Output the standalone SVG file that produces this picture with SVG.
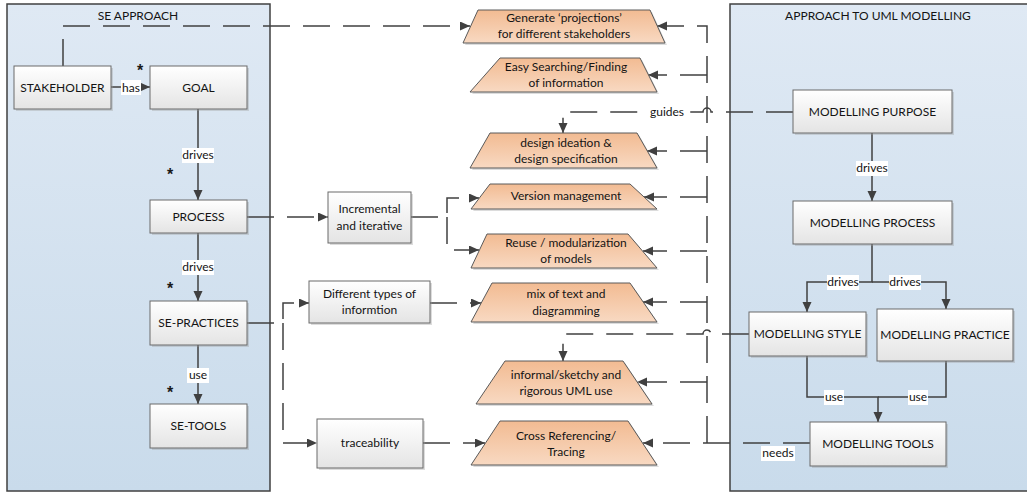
<svg xmlns="http://www.w3.org/2000/svg" width="1027" height="493" viewBox="0 0 1027 493">
<defs>
<linearGradient id="gPanel" x1="0" y1="0" x2="0" y2="1"><stop offset="0" stop-color="#dfe9f4"/><stop offset="1" stop-color="#c9dbeb"/></linearGradient>
<linearGradient id="gNode" x1="0" y1="0" x2="0" y2="1"><stop offset="0" stop-color="#ffffff"/><stop offset="1" stop-color="#e4e4e4"/></linearGradient>
<linearGradient id="gTrap" x1="0" y1="0" x2="0" y2="1"><stop offset="0" stop-color="#f2bb92"/><stop offset="1" stop-color="#f8d9c2"/></linearGradient>
<marker id="arr" markerUnits="userSpaceOnUse" markerWidth="11" markerHeight="10" refX="10" refY="4.5" orient="auto" viewBox="0 0 11 10">
<path class="ah" d="M0,0 L10,4.5 L0,9 z"/>
</marker>
<style>
.panel{fill:url(#gPanel);stroke:#404040;stroke-width:1.5}
.node{fill:url(#gNode);stroke:#6a6a6a;stroke-width:1}
.shadow{fill:#9a9a9a;opacity:0.35}
.trap{fill:url(#gTrap);stroke:#5a5a5a;stroke-width:1}
.t{font-family:Lato,"Liberation Sans",sans-serif;font-size:12px;fill:#141414;text-anchor:middle}
.star{font-family:"Liberation Sans",sans-serif;font-size:16px;font-weight:bold;fill:#1a1a1a;text-anchor:middle}
.ln{fill:none;stroke:#404040;stroke-width:1.5}
.dash{fill:none;stroke:#404040;stroke-width:1.5;stroke-dasharray:27 13}
.ah{fill:#404040;stroke:none}
.lbl{fill:#ffffff}
</style>
</defs>

<g id="panel-se">
<rect class="panel" x="7" y="4" width="263" height="487"/>
<text class="t" x="138" y="20">SE APPROACH</text>
</g>
<g id="panel-uml">
<rect class="panel" x="730" y="4" width="305" height="487"/>
<text class="t" x="878" y="20">APPROACH TO UML MODELLING</text>
</g>

<g id="connectors">
<path class="ln" d="M111,87 H150" marker-end="url(#arr)"/>
<path class="ln" d="M198,109 V200" marker-end="url(#arr)"/>
<path class="ln" d="M198,233 V301" marker-end="url(#arr)"/>
<path class="ln" d="M198,345 V404" marker-end="url(#arr)"/>
<path class="dash" d="M63,66 V26 H470" marker-end="url(#arr)"/>
<path class="dash" d="M247,217 H328" marker-end="url(#arr)"/>
<path class="dash" d="M411,217 H447 V198 H479" marker-end="url(#arr)"/>
<path class="dash" d="M447,217 V250 H479" marker-end="url(#arr)"/>
<path class="dash" d="M247,323 H283 V303 H309" marker-end="url(#arr)"/>
<path class="dash" d="M283,323 V443 H317" marker-end="url(#arr)"/>
<path class="dash" d="M430,303 H481" marker-end="url(#arr)"/>
<path class="dash" d="M423,443 H485" marker-end="url(#arr)"/>
<path class="dash" d="M793,112 H711 A4,4 0 0 0 703,112 H563 V133" marker-end="url(#arr)"/>
<path class="dash" d="M749,334 H711 A4,4 0 0 0 703,334 H563 V361" marker-end="url(#arr)"/>
<path class="dash" d="M810,443 H643" marker-end="url(#arr)"/>
<path class="dash" d="M707,443 V26 H657" marker-end="url(#arr)"/>
<path class="dash" d="M707,75 H648" marker-end="url(#arr)"/>
<path class="dash" d="M707,151 H647" marker-end="url(#arr)"/>
<path class="dash" d="M707,197 H644" marker-end="url(#arr)"/>
<path class="dash" d="M707,251 H643" marker-end="url(#arr)"/>
<path class="dash" d="M707,302 H643" marker-end="url(#arr)"/>
<path class="dash" d="M707,382 H637" marker-end="url(#arr)"/>
<path class="ln" d="M872,133 V201" marker-end="url(#arr)"/>
<path class="ln" d="M872,244 V282 H807 V312" marker-end="url(#arr)"/>
<path class="ln" d="M872,282 H946 V309" marker-end="url(#arr)"/>
<path class="ln" d="M807,356 V397 H878 V422" marker-end="url(#arr)"/>
<path class="ln" d="M946,361 V397 H878"/>
<rect class="lbl" x="121" y="80" width="20" height="15"/><text class="t" x="131" y="92">has</text>
<rect class="lbl" x="182" y="148" width="32" height="15"/><text class="t" x="198" y="159">drives</text>
<rect class="lbl" x="182" y="260" width="32" height="15"/><text class="t" x="198" y="271">drives</text>
<rect class="lbl" x="187" y="368" width="22" height="15"/><text class="t" x="198" y="379">use</text>
<rect class="lbl" x="649" y="105" width="36" height="15"/><text class="t" x="667" y="116">guides</text>
<rect class="lbl" x="856" y="161" width="32" height="15"/><text class="t" x="872" y="172">drives</text>
<rect class="lbl" x="827" y="275" width="32" height="15"/><text class="t" x="843" y="286">drives</text>
<rect class="lbl" x="889" y="275" width="32" height="15"/><text class="t" x="905" y="286">drives</text>
<rect class="lbl" x="824" y="390" width="20" height="15"/><text class="t" x="834" y="401">use</text>
<rect class="lbl" x="908" y="390" width="20" height="15"/><text class="t" x="918" y="401">use</text>
<rect class="lbl" x="761" y="446" width="34" height="15"/><text class="t" x="778" y="457">needs</text>
<text class="star" x="140" y="76">*</text>
<text class="star" x="170" y="180">*</text>
<text class="star" x="170" y="294">*</text>
<text class="star" x="170" y="398">*</text>
</g>

<g id="stakeholder"><rect class="shadow" x="16" y="68" width="97" height="43"/><rect class="node" x="14" y="66" width="97" height="43"/><text class="t" x="62.5" y="92">STAKEHOLDER</text></g>
<g id="goal"><rect class="shadow" x="152" y="68" width="97" height="43"/><rect class="node" x="150" y="66" width="97" height="43"/><text class="t" x="198.5" y="92">GOAL</text></g>
<g id="process"><rect class="shadow" x="152" y="202" width="97" height="33"/><rect class="node" x="150" y="200" width="97" height="33"/><text class="t" x="198.5" y="221">PROCESS</text></g>
<g id="se-practices"><rect class="shadow" x="152" y="303" width="97" height="44"/><rect class="node" x="150" y="301" width="97" height="44"/><text class="t" x="198.5" y="327">SE-PRACTICES</text></g>
<g id="se-tools"><rect class="shadow" x="152" y="406" width="97" height="44"/><rect class="node" x="150" y="404" width="97" height="44"/><text class="t" x="198.5" y="430">SE-TOOLS</text></g>

<g id="incremental"><rect class="shadow" x="330" y="194" width="83" height="51"/><rect class="node" x="328" y="192" width="83" height="51"/><text class="t" x="369.5" y="213">Incremental</text><text class="t" x="369.5" y="230">and iterative</text></g>
<g id="different-types"><rect class="shadow" x="311" y="283" width="121" height="42"/><rect class="node" x="309" y="281" width="121" height="42"/><text class="t" x="369.5" y="298">Different types of</text><text class="t" x="369.5" y="314">informtion</text></g>
<g id="traceability"><rect class="shadow" x="319" y="421" width="106" height="49"/><rect class="node" x="317" y="419" width="106" height="49"/><text class="t" x="370" y="447">traceability</text></g>

<g id="projections"><polygon class="shadow" points="480,12 652,12 667,45 465,45"/><polygon class="trap" points="478,10 650,10 665,43 463,43"/><text class="t" x="564" y="22">Generate ‘projections’</text><text class="t" x="564" y="38">for different stakeholders</text></g>
<g id="searching"><polygon class="shadow" points="502,60 642,60 659,94 472,94"/><polygon class="trap" points="500,58 640,58 657,92 470,92"/><text class="t" x="566" y="71">Easy Searching/Finding</text><text class="t" x="566" y="87">of information</text></g>
<g id="design-ideation"><polygon class="shadow" points="492,135 639,135 659,170 472,170"/><polygon class="trap" points="490,133 637,133 657,168 470,168"/><text class="t" x="566" y="147">design ideation &amp;</text><text class="t" x="566" y="163">design specification</text></g>
<g id="version"><polygon class="shadow" points="492,186 632,186 659,211 473,211"/><polygon class="trap" points="490,184 630,184 657,209 471,209"/><text class="t" x="566" y="200">Version management</text></g>
<g id="reuse"><polygon class="shadow" points="489,236 630,236 659,270 473,270"/><polygon class="trap" points="487,234 628,234 657,268 471,268"/><text class="t" x="566" y="247">Reuse / modularization</text><text class="t" x="566" y="263">of models</text></g>
<g id="mix"><polygon class="shadow" points="494,285 632,285 659,324 473,324"/><polygon class="trap" points="492,283 630,283 657,322 471,322"/><text class="t" x="566" y="298">mix of text and</text><text class="t" x="566" y="315">diagramming</text></g>
<g id="informal"><polygon class="shadow" points="507,363 625,363 654,406 478,406"/><polygon class="trap" points="505,361 623,361 652,404 476,404"/><text class="t" x="566" y="379">informal/sketchy and</text><text class="t" x="566" y="395">rigorous UML use</text></g>
<g id="cross-ref"><polygon class="shadow" points="502,423 630,423 659,467 473,467"/><polygon class="trap" points="500,421 628,421 657,465 471,465"/><text class="t" x="566" y="440">Cross Referencing/</text><text class="t" x="566" y="456">Tracing</text></g>

<g id="modelling-purpose"><rect class="shadow" x="795" y="92" width="159" height="43"/><rect class="node" x="793" y="90" width="159" height="43"/><text class="t" x="872.5" y="116">MODELLING PURPOSE</text></g>
<g id="modelling-process"><rect class="shadow" x="795" y="203" width="159" height="43"/><rect class="node" x="793" y="201" width="159" height="43"/><text class="t" x="872.5" y="227">MODELLING PROCESS</text></g>
<g id="modelling-style"><rect class="shadow" x="751" y="314" width="117" height="44"/><rect class="node" x="749" y="312" width="117" height="44"/><text class="t" x="807.5" y="338">MODELLING STYLE</text></g>
<g id="modelling-practice"><rect class="shadow" x="879" y="311" width="136" height="52"/><rect class="node" x="877" y="309" width="136" height="52"/><text class="t" x="945" y="339">MODELLING PRACTICE</text></g>
<g id="modelling-tools"><rect class="shadow" x="812" y="424" width="136" height="44"/><rect class="node" x="810" y="422" width="136" height="44"/><text class="t" x="878" y="448">MODELLING TOOLS</text></g>
</svg>
